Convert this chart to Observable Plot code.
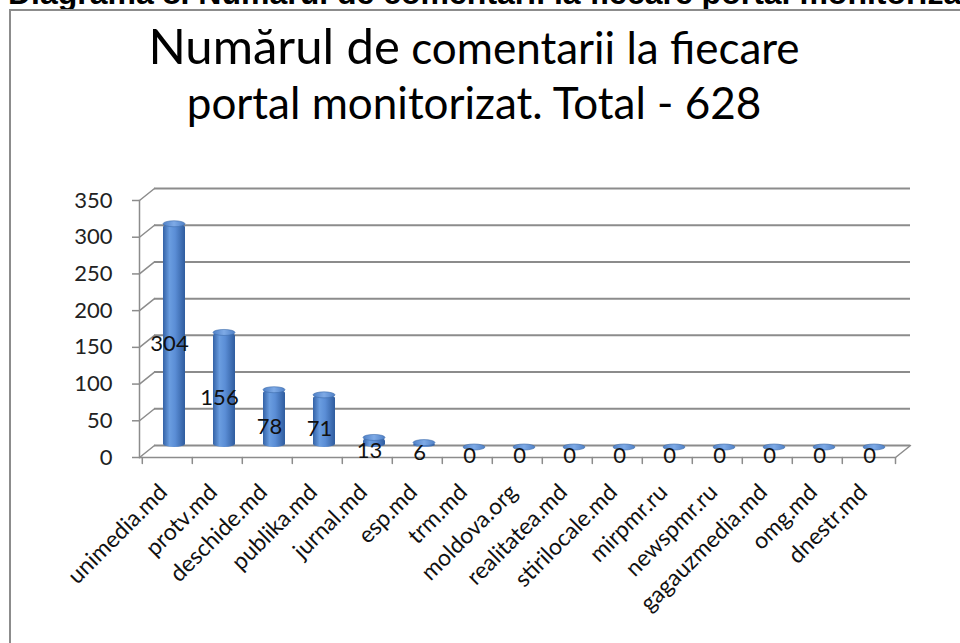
<!DOCTYPE html>
<html><head><meta charset="utf-8">
<script src="https://cdn.jsdelivr.net/npm/d3@7"></script>
<script src="https://cdn.jsdelivr.net/npm/@observablehq/plot@0.6"></script>
<style>
html,body{margin:0;padding:0;background:#fff;width:960px;height:643px;overflow:hidden;}
#wrap{position:relative;width:960px;height:643px;}
#chart{position:absolute;left:0;top:0;}
#cut{position:absolute;left:8px;top:-25px;font:bold 32px "Liberation Sans",Arial,sans-serif;white-space:nowrap;color:#000;}
#box{position:absolute;left:9px;top:9px;width:980px;height:700px;border-left:2px solid #8c8c8c;border-top:2px solid #8c8c8c;}
.tl{position:absolute;left:0;width:948px;text-align:center;font-family:Lato,"Open Sans",sans-serif;color:#000;font-size:44px;line-height:53px;white-space:nowrap;}
#t1{top:19px;}
#t2{top:76px;}
.big{font-size:49px;}
</style>
</head><body>
<div id="wrap">
  <div id="cut">Diagrama 8. Numărul de comentarii la fiecare portal monitorizat</div>
  <div id="box"></div>
  <div id="chart"></div>
  <div class="tl" id="t1"><span class="big">Numărul de</span> comentarii la fiecare</div>
  <div class="tl" id="t2">portal monitorizat. Total - 628</div>
</div>
<script>
const categories = ["unimedia.md","protv.md","deschide.md","publika.md","jurnal.md","esp.md","trm.md","moldova.org","realitatea.md","stirilocale.md","mirpmr.ru","newspmr.ru","gagauzmedia.md","omg.md","dnestr.md"];
const values = [304,156,78,71,13,6,0,0,0,0,0,0,0,0,0];
const yTicks = [0,50,100,150,200,250,300,350];

const data = categories.map((c,i)=>({portal:c, count:values[i]}));

const W=960, H=643, mL=139, mR=65, mT=200, mB=186;
const step=(W-mL-mR)/categories.length;
const depthX=15, depthY=-12;
const depthLen=Math.hypot(depthX,depthY);
const depthAngle=Math.atan2(depthX,-depthY)*180/Math.PI;
const lineShape={draw(ctx,l){ctx.moveTo(0,0);ctx.lineTo(0,-l);}};
const grid="#8c8c8c";

const defs = () => {
  const ns="http://www.w3.org/2000/svg";
  const d=document.createElementNS(ns,"defs");
  d.innerHTML=`<linearGradient id="cyl" x1="0" x2="1" y1="0" y2="0">
    <stop offset="0" stop-color="#3462a6"/>
    <stop offset="0.3" stop-color="#6a9de0"/>
    <stop offset="0.55" stop-color="#5b8ed6"/>
    <stop offset="1" stop-color="#2f5c9e"/>
  </linearGradient>
  <linearGradient id="cap" x1="0" x2="1" y1="0" y2="0">
    <stop offset="0" stop-color="#4f80c6"/>
    <stop offset="0.5" stop-color="#7eaae6"/>
    <stop offset="1" stop-color="#4f80c6"/>
  </linearGradient>`;
  return d;
};

const plot = Plot.plot({
  width: W, height: H,
  marginLeft: mL, marginRight: mR, marginTop: mT, marginBottom: mB,
  style: {fontFamily: "Lato, 'Open Sans', sans-serif", background: "transparent", overflow: "visible"},
  x: {domain: categories, padding: 0, label: null},
  y: {domain: [0,350], label: null},
  marks: [
    defs,
    // back wall gridlines
    Plot.ruleY(yTicks, {dx: depthX, dy: depthY, stroke: grid, strokeWidth: 2}),
    // left wall diagonals
    Plot.vector(yTicks, {y: d=>d, frameAnchor: "left", length: depthLen, rotate: depthAngle, anchor: "start", shape: lineShape, stroke: grid, strokeWidth: 1.5}),
    // front floor edge
    Plot.ruleY([0], {stroke: grid, strokeWidth: 1.5}),
    // right floor edge
    Plot.vector([0], {frameAnchor: "bottom-right", length: depthLen, rotate: depthAngle, anchor: "start", shape: lineShape, stroke: grid, strokeWidth: 1.5}),
    // vertical axis line
    Plot.frame({anchor: "left", stroke: grid, strokeWidth: 1.5}),
    // x boundary ticks
    Plot.vector(categories, {x: d=>d, y: 0, dx: -step/2, length: 6, rotate: 180, anchor: "start", shape: lineShape, stroke: grid, strokeWidth: 1.5}),
    Plot.vector([0], {frameAnchor: "bottom-right", length: 6, rotate: 180, anchor: "start", shape: lineShape, stroke: grid, strokeWidth: 1.5}),
    // cylinders
    Plot.barY(data, {x: "portal", y: "count", fill: "url(#cyl)", insetLeft: 14, insetRight: 14, dx: 7, dy: -10, rx: 11, ry: 3}),
    Plot.barY(data, {x: "portal", y1: "count", y2: "count", fill: "url(#cap)", stroke: "#3d6cab", strokeWidth: 0.6, insetLeft: 14, insetRight: 14, insetTop: -3, insetBottom: -3, dx: 7, dy: -10, rx: 11, ry: 3}),
    // data labels
    Plot.text(data, {x: "portal", y: d=>d.count/2, text: d=>String(d.count), dx: 2, dy: -2, fontSize: 22, fill: "#111"}),
    // axes
    Plot.axisY({ticks: yTicks, tickSize: 7, tickPadding: 20, fontSize: 22, fill: "#222", stroke: grid, strokeWidth: 1.5}),
    Plot.axisX({tickSize: 0, tickRotate: -45, tickPadding: 31, dx: -4, fontSize: 23, fill: "#111"})
  ]
});
document.getElementById("chart").appendChild(plot);
</script>
</body></html>
